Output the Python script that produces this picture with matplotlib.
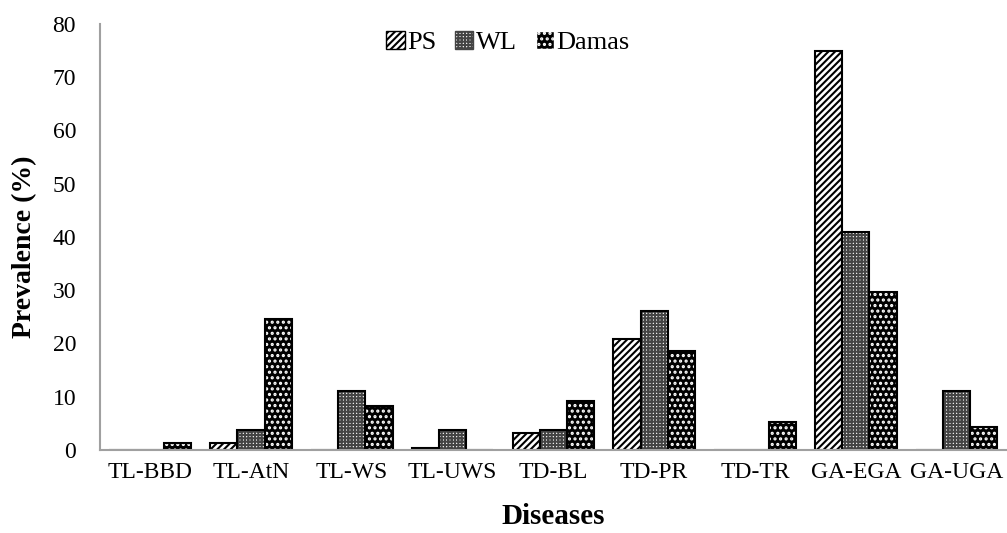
import numpy as np
import matplotlib
matplotlib.use("Agg")
import matplotlib.pyplot as plt
from matplotlib.patches import Patch

# datos
enfermedades = ["TL-BBD", "TL-AtN", "TL-WS", "TL-UWS", "TD-BL", "TD-PR", "TD-TR", "GA-EGA", "GA-UGA"]
ps = [0, 1.2, 0, 0.3, 3.2, 20.8, 0, 75.0, 0]
wl = [0, 3.7, 11.1, 3.7, 3.7, 26.0, 0, 41.0, 11.1]
damas = [1.2, 24.5, 8.3, 0, 9.2, 18.5, 5.2, 29.6, 4.2]

plt.rcParams['font.family'] = ['Liberation Serif', 'DejaVu Serif']
plt.rcParams['hatch.linewidth'] = 1.5

fig = plt.figure(figsize=(10.07, 5.33), dpi=100)
ax = fig.add_axes([0.099, 0.156, 0.901, 0.799])

x = np.arange(len(enfermedades))
w = 0.27

ax.bar(x - w, ps, w, facecolor="white", edgecolor="black", hatch="/////", lw=1.5)
ax.bar(x, wl, w, facecolor="white", edgecolor="#444444", hatch="+++++", lw=0)
ax.bar(x, wl, w, fill=False, edgecolor="black", lw=1.5)
# Damas: fondo negro con puntos blancos
ax.bar(x + w, damas, w, facecolor="black", edgecolor="white", hatch="...", lw=0)
ax.bar(x + w, damas, w, fill=False, edgecolor="black", lw=1.5)

# leyenda manual
h1 = Patch(facecolor="white", edgecolor="black", hatch="/////", label="PS")
h2 = Patch(facecolor="white", edgecolor="#444444", hatch="+++++", label="WL")
h3 = Patch(facecolor="black", edgecolor="white", hatch="...", label="Damas")
ax.legend(handles=[h1, h2, h3], loc="upper center", bbox_to_anchor=(0.45, 1.04), ncol=3, frameon=False,
          fontsize=19, handlelength=0.7, handleheight=0.7, handletextpad=0.1, columnspacing=0.7)

ax.set_xlim(-0.5, len(enfermedades) - 0.5)
ax.set_ylim(0, 80)
ax.set_yticks(range(0, 81, 10))
ax.set_xticks(x)
ax.set_xticklabels(enfermedades)
ax.tick_params(axis="y", length=0, pad=17, labelsize=17)
ax.tick_params(axis="x", length=0, pad=9, labelsize=17)
for s in ["top", "right"]:
    ax.spines[s].set_visible(False)
for s in ["bottom", "left"]:
    ax.spines[s].set_color("#a0a0a0")
    ax.spines[s].set_linewidth(1.5)

ax.set_ylabel("Prevalence (%)", fontsize=20, fontweight="bold")
ax.yaxis.set_label_coords(-0.069, 0.477)
ax.set_xlabel("Diseases", fontsize=21, fontweight="bold", labelpad=14)

fig.savefig("out.png", dpi=100)
